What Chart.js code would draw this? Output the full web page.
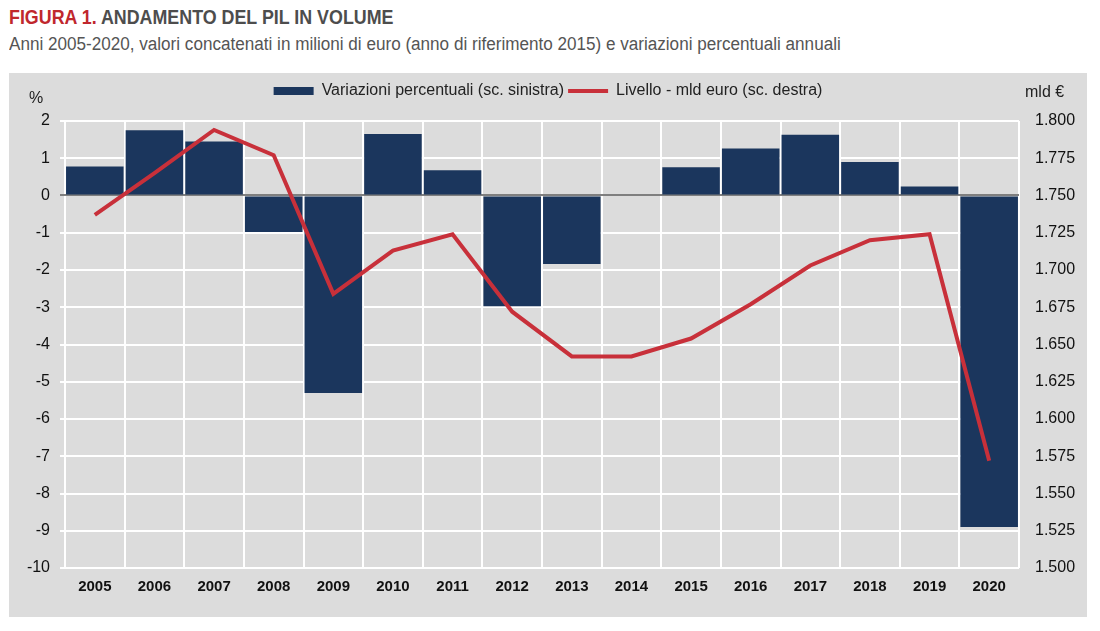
<!DOCTYPE html>
<html>
<head>
<meta charset="utf-8">
<script src="https://cdn.jsdelivr.net/npm/chart.js@4"></script>
<style>
  body { margin: 0; background: #fff; font-family: "Liberation Sans", Arial, sans-serif; }
  #title { position: absolute; left: 9px; top: 5px; font-size: 21px; font-weight: bold; color: #4d4d4d; white-space: nowrap; transform: scaleX(0.85); transform-origin: left top; }
  #title span { color: #c0272d; }
  #subtitle { position: absolute; left: 9px; top: 34px; font-size: 18px; color: #555; white-space: nowrap; transform: scaleX(0.95); transform-origin: left top; }
  #panel { position: absolute; left: 9px; top: 73px; width: 1078px; height: 544px; background: #dcdcdc; }
  .unit { position: absolute; font-size: 16px; color: #222; }
</style>
</head>
<body>
<div id="title"><span>FIGURA 1.</span> ANDAMENTO DEL PIL IN VOLUME</div>
<div id="subtitle">Anni 2005-2020, valori concatenati in milioni di euro (anno di riferimento 2015) e variazioni percentuali annuali</div>
<div id="panel">
  <canvas id="myChart" width="1078" height="544"></canvas>
  <div class="unit" style="left:20px; top:16px;">%</div>
  <div class="unit" style="left:1016px; top:10px;">mld €</div>
</div>
<script>
const years = ['2005','2006','2007','2008','2009','2010','2011','2012','2013','2014','2015','2016','2017','2018','2019','2020'];
const variazioni = [0.78, 1.75, 1.45, -0.98, -5.3, 1.65, 0.68, -2.97, -1.84, 0.0, 0.76, 1.26, 1.63, 0.9, 0.24, -8.9];
const livello = [1.737, 1.765, 1.794, 1.777, 1.684, 1.713, 1.724, 1.672, 1.642, 1.642, 1.654, 1.677, 1.703, 1.720, 1.724, 1.572];
const leftTicks = [2, 1, 0, -1, -2, -3, -4, -5, -6, -7, -8, -9, -10];

const tickFont = { family: '"Liberation Sans", Arial', size: 16 };

// push the plot down below the legend
const legendMargin = {
    id: 'legendMargin',
    beforeInit(chart) {
        const fit = chart.legend.fit;
        chart.legend.fit = function () {
            fit.bind(chart.legend)();
            this.height += 12;
        };
    }
};

const ctx = document.getElementById('myChart').getContext('2d');
const myChart = new Chart(ctx, {
    type: 'bar',
    data: {
        labels: years,
        datasets: [{
            type: 'line',
            label: 'Livello - mld euro (sc. destra)',
            data: livello,
            yAxisID: 'y1',
            borderColor: '#c8303a',
            backgroundColor: '#c8303a',
            borderWidth: 4,
            pointRadius: 0,
            tension: 0,
            pointStyle: 'line',
            order: 0
        }, {
            label: 'Variazioni percentuali (sc. sinistra)',
            data: variazioni,
            yAxisID: 'y',
            backgroundColor: '#1b365d',
            borderWidth: 0,
            categoryPercentage: 1,
            barPercentage: 0.965,
            pointStyle: 'rect',
            order: 1
        }]
    },
    options: {
        responsive: false,
        animation: false,
        layout: { padding: { top: 6, left: 0, right: 0, bottom: 0 } },
        plugins: {
            legend: {
                reverse: true,
                labels: {
                    usePointStyle: true,
                    pointStyleWidth: 40,
                    boxHeight: 8,
                    color: '#222',
                    font: { family: '"Liberation Sans", Arial', size: 16 },
                    padding: 4
                }
            },
            tooltip: { enabled: false }
        },
        scales: {
            x: {
                grid: { color: '#ffffff', lineWidth: 2, drawTicks: false },
                border: { display: false },
                ticks: { color: '#111', font: { family: 'Liberation Sans, Arial', size: 15, weight: 'bold' }, padding: 10 },
                afterFit: (axis) => { axis.height = 49; }
            },
            y: {
                position: 'left',
                min: -10,
                max: 2,
                afterBuildTicks: (axis) => { axis.ticks = leftTicks.map(v => ({ value: v })); },
                grid: {
                    color: (c) => c.tick && c.tick.value === 0 ? '#7f7f7f' : '#ffffff',
                    lineWidth: 2,
                    tickLength: 5
                },
                border: { display: false },
                ticks: { color: '#111', font: tickFont, padding: 10 },
                afterFit: (axis) => { axis.width = 56; }
            },
            y1: {
                position: 'right',
                min: 1.5,
                max: 1.8,
                grid: { display: false },
                border: { display: false },
                ticks: {
                    stepSize: 0.025,
                    color: '#111',
                    font: tickFont,
                    padding: 8,
                    callback: (v) => v.toFixed(3)
                },
                afterFit: (axis) => { axis.width = 68; }
            }
        }
    },
    plugins: [legendMargin]
});
</script>
</body>
</html>
